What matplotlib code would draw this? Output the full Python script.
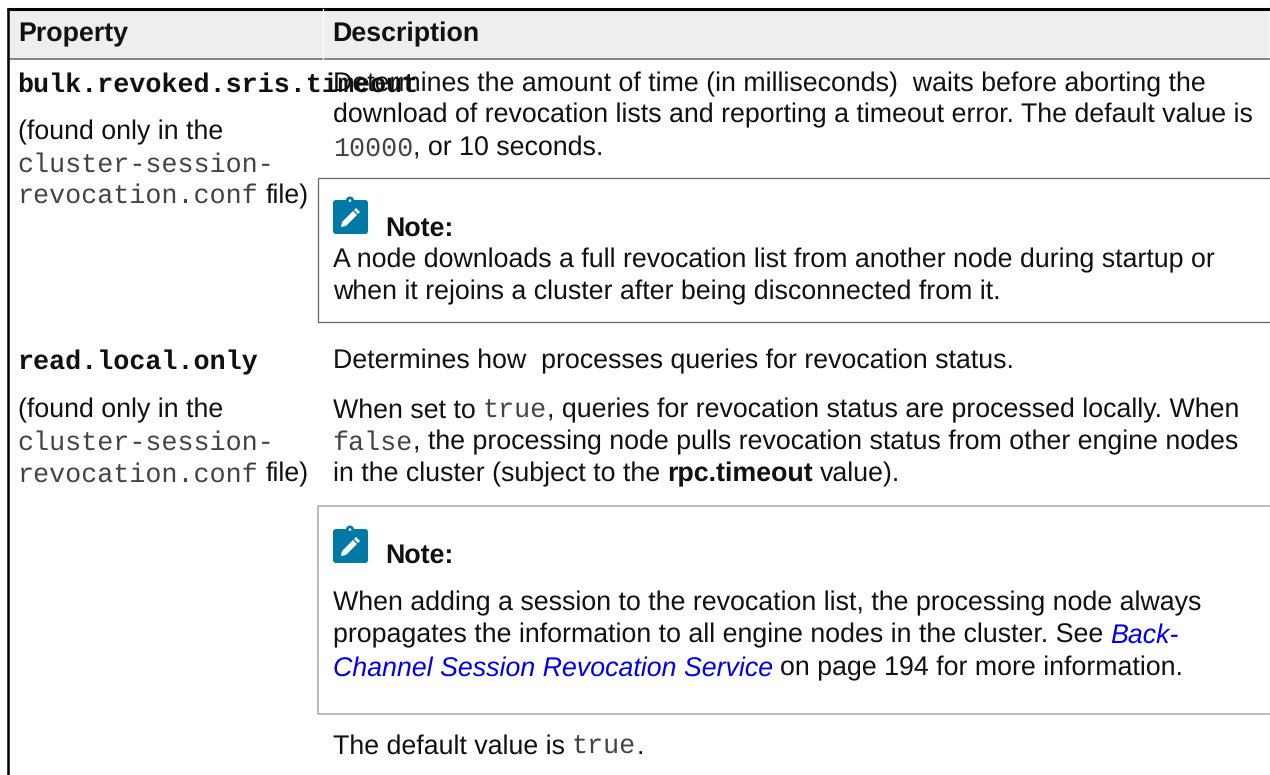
import matplotlib
matplotlib.use("Agg")
import matplotlib.pyplot as plt
from matplotlib.patches import FancyBboxPatch, Polygon, Circle

plt.rcParams["text.hinting"] = "no_hinting"
WIDTH, HEIGHT = 1270, 775
SANS = "Liberation Sans"
MONO = "Liberation Mono"
BODY = 19.24
SPACE = 7.4

header_labels = ["Property", "Description"]

# each line is a list of (text, style) runs
left_lines_1 = [
    [("bulk.revoked.sris.timeout", "code_bold")],
    [("(found only in the", "plain")],
    [("cluster-session-", "code")],
    [("revocation.conf", "code"), (" file)", "plain")],
]
left_lines_2 = [
    [("read.local.only", "code_bold")],
    [("(found only in the", "plain")],
    [("cluster-session-", "code")],
    [("revocation.conf", "code"), (" file)", "plain")],
]
right_lines_1 = [
    [("Determines the amount of time (in milliseconds)  waits before aborting the", "plain")],
    [("download of revocation lists and reporting a timeout error. The default value is", "plain")],
    [("10000", "code"), (", or 10 seconds.", "plain")],
]
note_1_lines = [
    [("A node downloads a full revocation list from another node during startup or", "plain")],
    [("when it rejoins a cluster after being disconnected from it.", "plain")],
]
right_lines_2 = [
    [("Determines how  processes queries for revocation status.", "plain")],
    [("When set to ", "plain"), ("true", "code"), (", queries for revocation status are processed locally. When", "plain")],
    [("false", "code"), (", the processing node pulls revocation status from other engine nodes", "plain")],
    [("in the cluster (subject to the ", "plain"), ("rpc.timeout", "bold"), (" value).", "plain")],
]
note_2_lines = [
    [("When adding a session to the revocation list, the processing node always", "plain")],
    [("propagates the information to all engine nodes in the cluster. See ", "plain"), ("Back-", "link")],
    [("Channel Session Revocation Service", "link"), (" on page 194 for more information.", "plain")],
]
default_line = [("The default value is ", "plain"), ("true", "code"), (".", "plain")]

STYLES = {
    "plain": dict(family=SANS, color="#111111"),
    "bold": dict(family=SANS, color="#111111", weight="bold"),
    "link": dict(family=SANS, color="#0000EE", style="italic"),
    "code": dict(family=MONO, color="#444444"),
    "code_bold": dict(family=MONO, color="#111111", weight="bold"),
}

fig = plt.figure(figsize=(WIDTH / 100, HEIGHT / 100), dpi=100)
ax = fig.add_axes([0, 0, 1, 1])
ax.set_xlim(0, WIDTH)
ax.set_ylim(HEIGHT, 0)
ax.axis("off")
rend = fig.canvas.get_renderer()


def run(x, y, runs):
    # runs sit one after another on the same baseline
    for txt, style in runs:
        body = txt.strip(" ")
        lead = len(txt) - len(txt.lstrip(" "))
        x += lead * SPACE
        t = ax.text(x, y + 0.5, body, fontsize=BODY, va="baseline", ha="left", **STYLES[style])
        x = t.get_window_extent(rend).x1 + (len(txt.rstrip(" ")) < len(txt)) * SPACE


def block(x, ys, lines):
    for y, line in zip(ys, lines):
        run(x, y, line)


def note_icon(x, y):
    ax.add_patch(FancyBboxPatch((x, y + 4), 35, 34, boxstyle="round,pad=0,rounding_size=3",
                                fc="#0079A6", ec="none", zorder=3))
    ax.add_patch(Circle((x + 17, y + 4.5), 4, fc="#0079A6", ec="none", zorder=3))
    ax.add_patch(Circle((x + 17, y + 4.6), 1.3, fc="white", ec="none", zorder=4))
    ax.add_patch(Polygon([(x + 8, y + 31), (x + 9, y + 26), (x + 20, y + 15), (x + 24, y + 19), (x + 13, y + 30)],
                         fc="white", ec="none", zorder=4))
    ax.add_patch(Polygon([(x + 21, y + 14), (x + 23, y + 12), (x + 27, y + 16), (x + 25, y + 18)],
                         fc="white", ec="none", zorder=4))


# header band
ax.fill_between([8, 1269], 9, 59, color="#EEEEEE", lw=0, zorder=0)
ax.plot([6.5, WIDTH], [9, 9], color="black", lw=2.2, solid_capstyle="butt")
ax.plot([8, WIDTH], [59.3, 59.3], color="#666666", lw=1.1)
ax.plot([7.5, 7.5], [8, HEIGHT], color="black", lw=1.8, solid_capstyle="butt")
ax.plot([322.7, 322.7], [9, 60], color="white", lw=0.9)
ax.plot([1269.5, 1269.5], [10, HEIGHT], color="#C8C8C8", lw=0.8)

for x, label in zip([18, 332.6], header_labels):
    ax.text(x, 41.2, label, fontsize=BODY, family=SANS, weight="bold", va="baseline", color="#111111")

# note boxes
ax.plot([WIDTH, 317.5, 317.5, WIDTH], [177.7, 177.7, 321.7, 321.7], color="#666666", lw=0.9)
ax.plot([WIDTH, 317.5, 317.5, WIDTH], [506.3, 506.3, 714, 714], color="#A8A8A8", lw=1.1)

block(17.5, [91, 139, 171, 202.7], left_lines_1)
block(17.5, [369.3, 417, 449.3, 481], left_lines_2)
block(332.6, [91, 122.3, 155], right_lines_1)
block(332.6, [266.7, 299], note_1_lines)
block(332.6, [368.3, 417.3, 449.3, 480.7], right_lines_2)
block(332.6, [610, 642.3, 675], note_2_lines)
run(332.6, 753, default_line)

note_icon(333, 196)
ax.text(385.5, 235.5, "Note:", fontsize=BODY, family=SANS, weight="bold", va="baseline", color="#111111")
note_icon(333, 525)
ax.text(385.5, 563.2, "Note:", fontsize=BODY, family=SANS, weight="bold", va="baseline", color="#111111")

fig.savefig("out.png", dpi=100)
